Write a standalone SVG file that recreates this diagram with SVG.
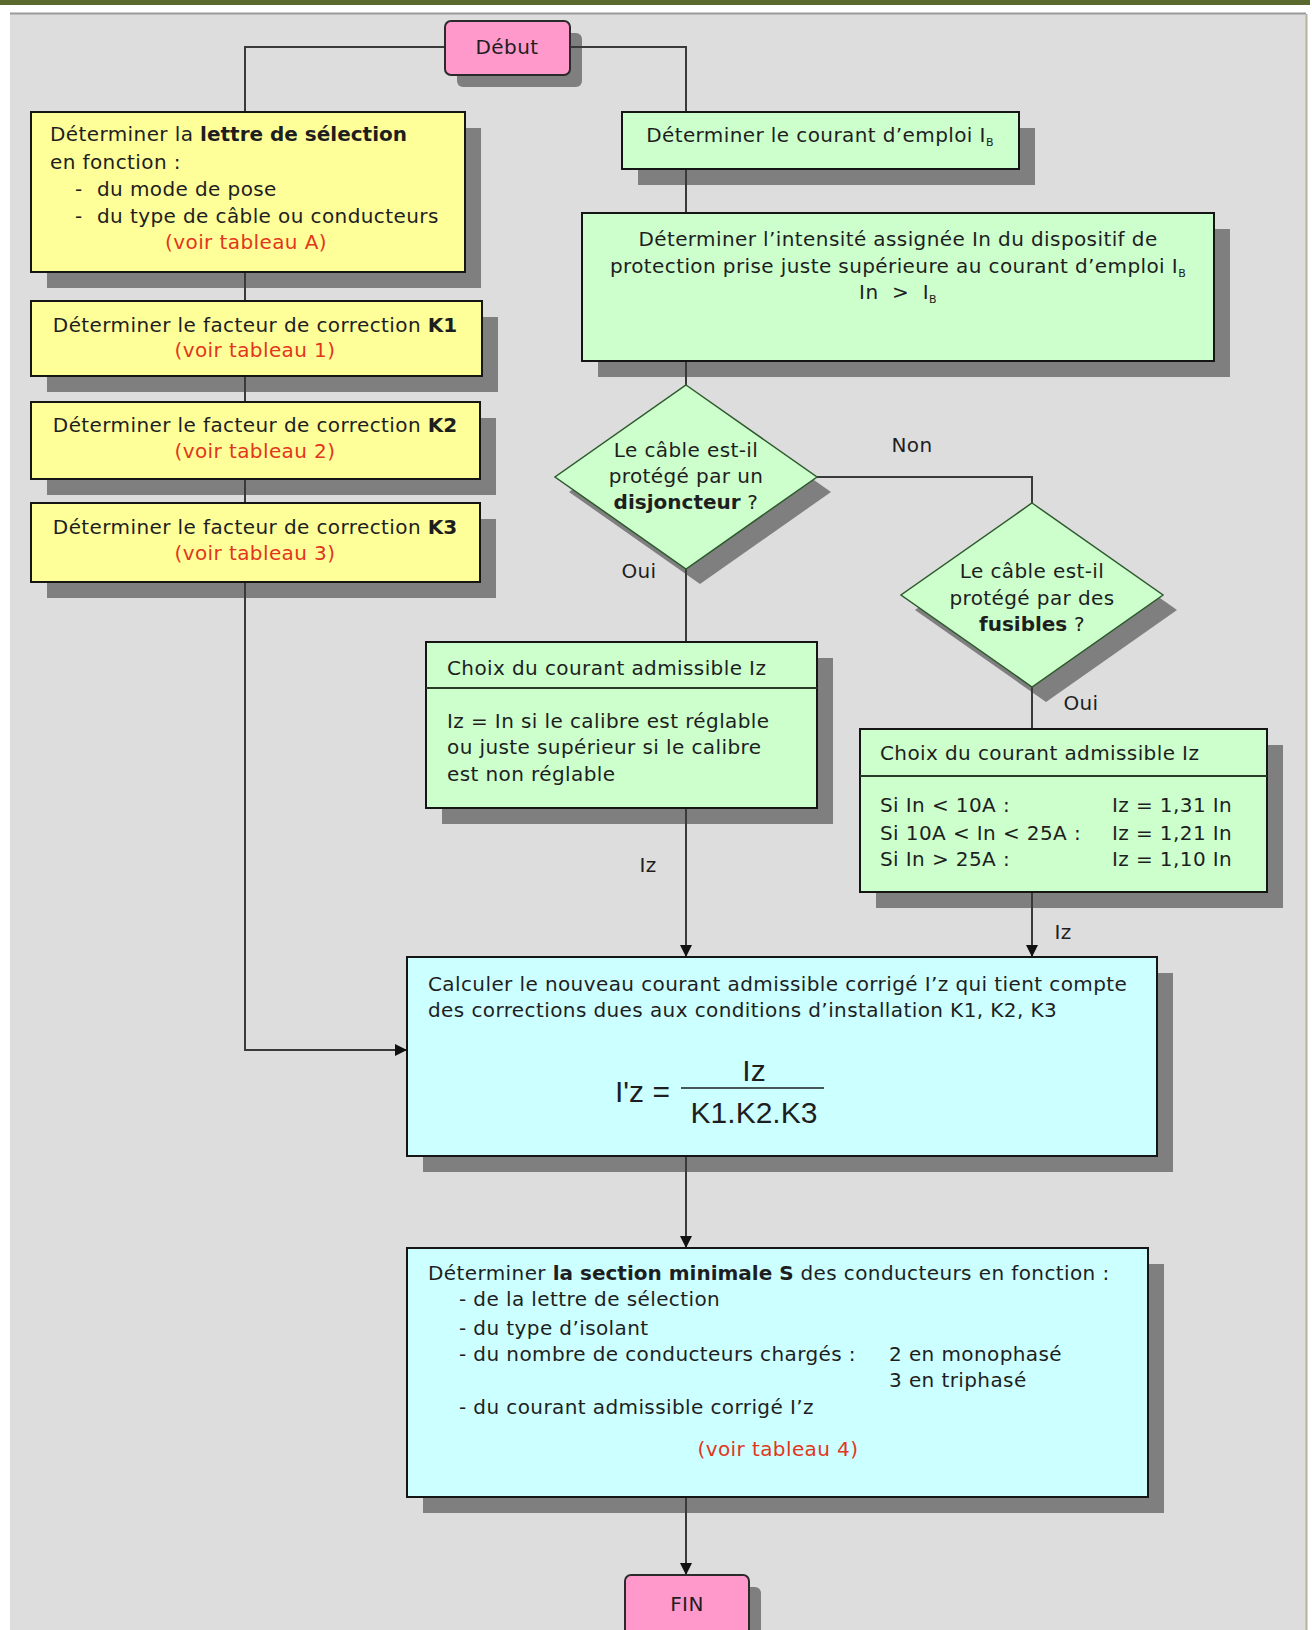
<svg xmlns="http://www.w3.org/2000/svg" width="1312" height="1630" viewBox="0 0 1312 1630">
  <defs>
    <marker id="arrow" markerUnits="userSpaceOnUse" markerWidth="12" markerHeight="12" refX="11" refY="6" orient="auto">
      <path d="M0,0 L12,6 L0,12 z" fill="#111"/>
    </marker>
    <style>
      .t { font-family: "DejaVu Sans", Verdana, sans-serif; font-size: 20px; letter-spacing: 0.4px; fill: #1e1e1e; }
      .c { text-anchor: middle; }
      .b { font-weight: bold; letter-spacing: 0; }
      .pre { white-space: pre; }
      .red { fill: #e2361c; }
      .sub { font-size: 11px; }
      .f { font-family: "Liberation Sans", Arial, sans-serif; font-size: 30px; fill: #1e1e1e; }
      .shadow { fill: #7f7f7f; }
      .yellow { fill: #ffff99; stroke: #151515; stroke-width: 2; }
      .green { fill: #ccffcc; stroke: #151515; stroke-width: 2; }
      .cyan { fill: #ccffff; stroke: #151515; stroke-width: 2; }
      .pink { fill: #ff99cc; stroke: #2a2a2a; stroke-width: 2; }
      .diam { fill: #ccffcc; stroke: #2f5a2f; stroke-width: 1.5; }
      .sep { stroke: #2a3a2a; stroke-width: 2; }
      .wire { fill: none; stroke: #3a3a3a; stroke-width: 2; }
    </style>
  </defs>

  <!-- page frame -->
  <rect x="0" y="0" width="1312" height="1630" fill="#ffffff"/>
  <rect x="10" y="14" width="1296" height="1616" fill="#dddddd"/>
  <rect x="0" y="0" width="1310" height="5" fill="#5a6a2e"/>
  <line x1="10" y1="13.5" x2="1306" y2="13.5" stroke="#9a9a9a" stroke-width="2"/>
  <line x1="1306.5" y1="14" x2="1306.5" y2="1630" stroke="#b8b2a0" stroke-width="2"/>

  <!-- drop shadows -->
  <g id="shadows">
    <rect class="shadow" x="457" y="33" width="125" height="54" rx="6"/>
    <rect class="shadow" x="47" y="128" width="434" height="160"/>
    <rect class="shadow" x="47" y="317" width="451" height="75"/>
    <rect class="shadow" x="47" y="418" width="449" height="77"/>
    <rect class="shadow" x="47" y="519" width="449" height="79"/>
    <rect class="shadow" x="638" y="128" width="397" height="57"/>
    <rect class="shadow" x="598" y="229" width="632" height="148"/>
    <polygon class="shadow" points="700,400 831,492 700,584 569,492"/>
    <polygon class="shadow" points="1046,518 1177,610 1046,702 915,610"/>
    <rect class="shadow" x="442" y="658" width="391" height="166"/>
    <rect class="shadow" x="876" y="745" width="407" height="163"/>
    <rect class="shadow" x="423" y="973" width="750" height="199"/>
    <rect class="shadow" x="423" y="1264" width="741" height="249"/>
    <rect class="shadow" x="637" y="1587" width="124" height="60" rx="6"/>
  </g>

  <!-- connectors -->
  <g id="connectors">
    <path class="wire" d="M445,47 H245 V112"/>
    <path class="wire" d="M570,47 H686 V112"/>
    <path class="wire" d="M245,272 V1050 H406" marker-end="url(#arrow)"/>
    <path class="wire" d="M686,169 V213"/>
    <path class="wire" d="M686,361 V385"/>
    <path class="wire" d="M686,569 V642"/>
    <path class="wire" d="M686,808 V956" marker-end="url(#arrow)"/>
    <path class="wire" d="M817,477 H1032 V503"/>
    <path class="wire" d="M1032,687 V729"/>
    <path class="wire" d="M1032,892 V956" marker-end="url(#arrow)"/>
    <path class="wire" d="M686,1156 V1247" marker-end="url(#arrow)"/>
    <path class="wire" d="M686,1497 V1574" marker-end="url(#arrow)"/>
    <text class="t c" x="912" y="452">Non</text>
    <text class="t c" x="639" y="578">Oui</text>
    <text class="t c" x="1081" y="710">Oui</text>
    <text class="t c" x="648" y="872">Iz</text>
    <text class="t c" x="1063" y="939">Iz</text>
  </g>

  <!-- start -->
  <g id="debut">
    <rect class="pink" x="445" y="21" width="125" height="54" rx="6"/>
    <text class="t c" x="507" y="54">Début</text>
  </g>

  <!-- left column: selection letter and correction factors -->
  <g id="lettre">
    <rect class="yellow" x="31" y="112" width="434" height="160"/>
    <text class="t" x="50" y="141">Déterminer la <tspan class="b">lettre de sélection</tspan></text>
    <text class="t" x="50" y="169">en fonction :</text>
    <text class="t" x="75" y="196">-</text>
    <text class="t" x="97" y="196">du mode de pose</text>
    <text class="t" x="75" y="223">-</text>
    <text class="t" x="97" y="223">du type de câble ou conducteurs</text>
    <text class="t c red" x="246" y="249">(voir tableau A)</text>
  </g>

  <g id="k1">
    <rect class="yellow" x="31" y="301" width="451" height="75"/>
    <text class="t c" x="255" y="332">Déterminer le facteur de correction <tspan class="b">K1</tspan></text>
    <text class="t c red" x="255" y="357">(voir tableau 1)</text>
  </g>

  <g id="k2">
    <rect class="yellow" x="31" y="402" width="449" height="77"/>
    <text class="t c" x="255" y="432">Déterminer le facteur de correction <tspan class="b">K2</tspan></text>
    <text class="t c red" x="255" y="458">(voir tableau 2)</text>
  </g>

  <g id="k3">
    <rect class="yellow" x="31" y="503" width="449" height="79"/>
    <text class="t c" x="255" y="534">Déterminer le facteur de correction <tspan class="b">K3</tspan></text>
    <text class="t c red" x="255" y="560">(voir tableau 3)</text>
  </g>

  <!-- right column: protection device -->
  <g id="courant-emploi">
    <rect class="green" x="622" y="112" width="397" height="57"/>
    <text class="t c" x="820" y="142">Déterminer le courant d’emploi I<tspan class="sub" dy="4">B</tspan></text>
  </g>

  <g id="intensite">
    <rect class="green" x="582" y="213" width="632" height="148"/>
    <text class="t c" x="898" y="246">Déterminer l’intensité assignée In du dispositif de</text>
    <text class="t c" x="898" y="273">protection prise juste supérieure au courant d’emploi I<tspan class="sub" dy="4">B</tspan></text>
    <text class="t c pre" x="898" y="299">In  &gt;  I<tspan class="sub" dy="4">B</tspan></text>
  </g>

  <g id="disjoncteur">
    <polygon class="diam" points="686,385 817,477 686,569 555,477"/>
    <text class="t c" x="686" y="457">Le câble est-il</text>
    <text class="t c" x="686" y="483">protégé par un</text>
    <text class="t c" x="686" y="509"><tspan class="b">disjoncteur</tspan> ?</text>
  </g>

  <g id="fusibles">
    <polygon class="diam" points="1032,503 1163,595 1032,687 901,595"/>
    <text class="t c" x="1032" y="578">Le câble est-il</text>
    <text class="t c" x="1032" y="605">protégé par des</text>
    <text class="t c" x="1032" y="631"><tspan class="b">fusibles</tspan> ?</text>
  </g>

  <g id="choix-disjoncteur">
    <rect class="green" x="426" y="642" width="391" height="166"/>
    <line class="sep" x1="426" y1="688" x2="817" y2="688"/>
    <text class="t" x="447" y="675">Choix du courant admissible Iz</text>
    <text class="t" x="447" y="728">Iz = In si le calibre est réglable</text>
    <text class="t" x="447" y="754">ou juste supérieur si le calibre</text>
    <text class="t" x="447" y="781">est non réglable</text>
  </g>

  <g id="choix-fusibles">
    <rect class="green" x="860" y="729" width="407" height="163"/>
    <line class="sep" x1="860" y1="776" x2="1267" y2="776"/>
    <text class="t" x="880" y="760">Choix du courant admissible Iz</text>
    <text class="t" x="880" y="812">Si In &lt; 10A :</text>
    <text class="t" x="1112" y="812">Iz = 1,31 In</text>
    <text class="t" x="880" y="840">Si 10A &lt; In &lt; 25A :</text>
    <text class="t" x="1112" y="840">Iz = 1,21 In</text>
    <text class="t" x="880" y="866">Si In &gt; 25A :</text>
    <text class="t" x="1112" y="866">Iz = 1,10 In</text>
  </g>

  <!-- corrected current -->
  <g id="calcul">
    <rect class="cyan" x="407" y="957" width="750" height="199"/>
    <text class="t" x="428" y="991">Calculer le nouveau courant admissible corrigé I’z qui tient compte</text>
    <text class="t" x="428" y="1017">des corrections dues aux conditions d’installation K1, K2, K3</text>
    <text class="f" x="615" y="1102">I'z =</text>
    <line x1="681" y1="1088" x2="824" y2="1088" stroke="#1e1e1e" stroke-width="1.5"/>
    <text class="f c" x="754" y="1081">Iz</text>
    <text class="f c" x="754" y="1123">K1.K2.K3</text>
  </g>

  <!-- minimal section -->
  <g id="section">
    <rect class="cyan" x="407" y="1248" width="741" height="249"/>
    <text class="t" x="428" y="1280">Déterminer <tspan class="b">la section minimale S</tspan> des conducteurs en fonction :</text>
    <text class="t" x="459" y="1306">- de la lettre de sélection</text>
    <text class="t" x="459" y="1335">- du type d’isolant</text>
    <text class="t" x="459" y="1361">- du nombre de conducteurs chargés :</text>
    <text class="t" x="889" y="1361">2 en monophasé</text>
    <text class="t" x="889" y="1387">3 en triphasé</text>
    <text class="t" x="459" y="1414">- du courant admissible corrigé I’z</text>
    <text class="t c red" x="778" y="1456">(voir tableau 4)</text>
  </g>

  <!-- end -->
  <g id="fin">
    <rect class="pink" x="625" y="1575" width="124" height="70" rx="6"/>
    <text class="t c" x="687" y="1611">FIN</text>
  </g>
</svg>
